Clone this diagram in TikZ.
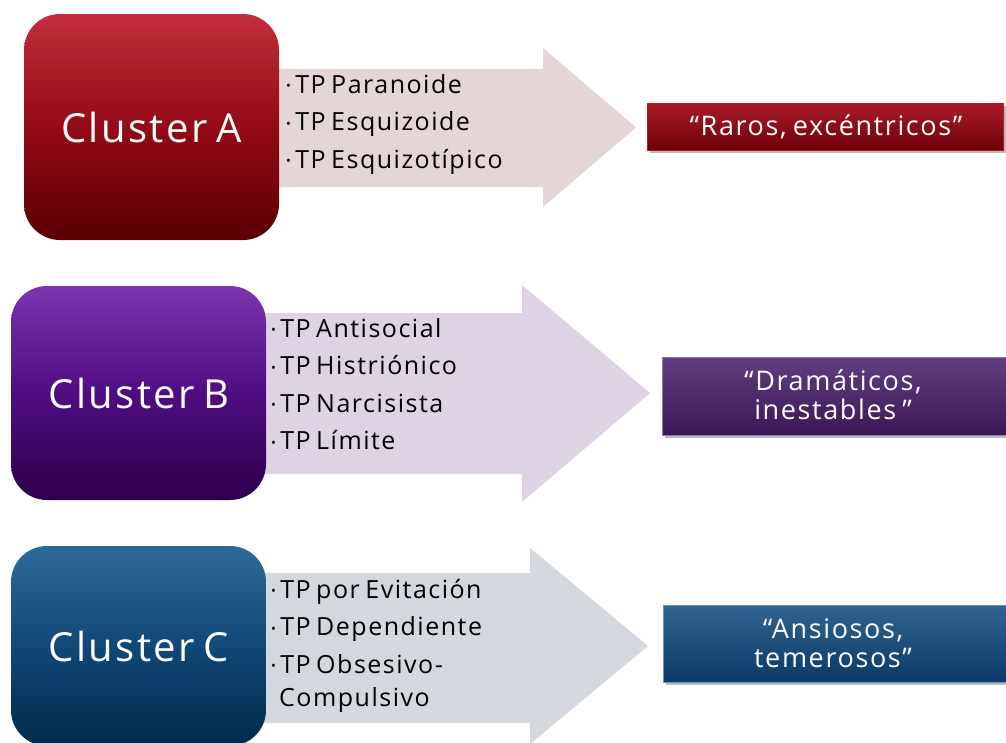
\documentclass[tikz,border=0pt]{standalone}
\usepackage{fontspec}
\setmainfont{Open Sans}
\newfontfamily\clusterfont[LetterSpace=6]{Open Sans}
\newfontfamily\itemfont[LetterSpace=6,WordSpace=0.7]{Open Sans}
\newfontfamily\lblfont[LetterSpace=6]{Open Sans}

% palette
\definecolor{redTop}{RGB}{194,46,60}
\definecolor{redMid}{RGB}{148,10,22}
\definecolor{redBot}{RGB}{88,0,4}
\definecolor{redArrow}{RGB}{228,214,215}
\definecolor{redLblTop}{RGB}{170,28,40}
\definecolor{redLblBot}{RGB}{108,0,8}
\definecolor{purTop}{RGB}{123,53,175}
\definecolor{purMid}{RGB}{80,12,130}
\definecolor{purBot}{RGB}{46,0,74}
\definecolor{purArrow}{RGB}{221,211,226}
\definecolor{purLblTop}{RGB}{96,62,128}
\definecolor{purLblBot}{RGB}{58,24,88}
\definecolor{bluTop}{RGB}{46,106,152}
\definecolor{bluMid}{RGB}{16,72,120}
\definecolor{bluBot}{RGB}{0,42,74}
\definecolor{bluArrow}{RGB}{212,216,222}
\definecolor{bluLblTop}{RGB}{48,100,145}
\definecolor{bluLblBot}{RGB}{10,58,102}

\tikzset{
  clusterbox/.style={rounded corners=36pt, inner sep=0pt},
  clustertext/.style={text=white, font=\clusterfont\fontsize{40}{44}\selectfont, inner sep=0pt},
  itemlist/.style={anchor=north west, align=left, inner sep=0pt, text=black,
    font=\itemfont\fontsize{25}{37.5}\selectfont},
  lbltext/.style={text=white, align=center, inner sep=0pt,
    font=\lblfont\fontsize{27}{29}\selectfont},
  lblshadow/.style={fill=black!45, opacity=0.6},
}
\newcommand{\bul}{{\fontsize{13}{13}\selectfont\raisebox{2.5pt}{•}}\,}

\begin{document}
\begin{tikzpicture}[x=1pt,y=-1pt]
\useasboundingbox (0,0) rectangle (1006,742);

% ---------------- Cluster A ----------------
\fill[redArrow] (270,69) -- (543,69) -- (543,48) -- (636,127.5) -- (543,207) -- (543,187) -- (270,187) -- cycle;
\shade[clusterbox, top color=redTop, bottom color=redBot, middle color=redMid] (24,14) rectangle (279,240);
\node[clustertext] (ca) at (151.5,127) {Cluster A};
\node[itemlist] (la) at (286,74) {\bul TP Paranoide\\ \bul TP Esquizoide\\ \bul TP Esquizotípico};
\fill[lblshadow] (650,106) rectangle (1006,153);
\shade[top color=redLblTop, bottom color=redLblBot, draw=red!25!redLblTop, line width=1pt] (647,103) rectangle (1003,150);
\node[lbltext] (ta) at (826,126.5) {“Raros, excéntricos”};

% ---------------- Cluster B ----------------
\fill[purArrow] (258,313) -- (522,313) -- (522,285) -- (650,393) -- (522,502) -- (522,474) -- (258,474) -- cycle;
\shade[clusterbox, top color=purTop, bottom color=purBot, middle color=purMid] (11,286) rectangle (266,500);
\node[clustertext] (cb) at (139,393) {Cluster B};
\node[itemlist] (lb) at (271,318) {\bul TP Antisocial\\ \bul TP Histriónico\\ \bul TP Narcisista\\ \bul TP Límite};
\fill[lblshadow] (665,360) rectangle (1012,438);
\shade[top color=purLblTop, bottom color=purLblBot, draw=purLblTop!70!white, line width=1pt] (662,357) rectangle (1010,435);
\node[lbltext] (tb) at (833,395) {“Dramáticos,\\inestables ”};

% ---------------- Cluster C ----------------
\fill[bluArrow] (258,573) -- (530,573) -- (530,548) -- (648,646) -- (530,744) -- (530,723) -- (258,723) -- cycle;
\shade[clusterbox, top color=bluTop, bottom color=bluBot, middle color=bluMid] (11,546) rectangle (266,746);
\node[clustertext] (cc) at (139,646) {Cluster C};
\node[itemlist] (lc) at (271,579) {\bul TP por Evitación\\ \bul TP Dependiente\\ \bul TP Obsesivo-\\[-4pt] \hspace*{8pt}Compulsivo};
\fill[lblshadow] (666,608) rectangle (1012,685);
\shade[top color=bluLblTop, bottom color=bluLblBot, draw=bluLblTop!70!white, line width=1pt] (663,605) rectangle (1010,682);
\node[lbltext] (tc) at (833,643.5) {“Ansiosos,\\temerosos”};
\end{tikzpicture}
\end{document}
